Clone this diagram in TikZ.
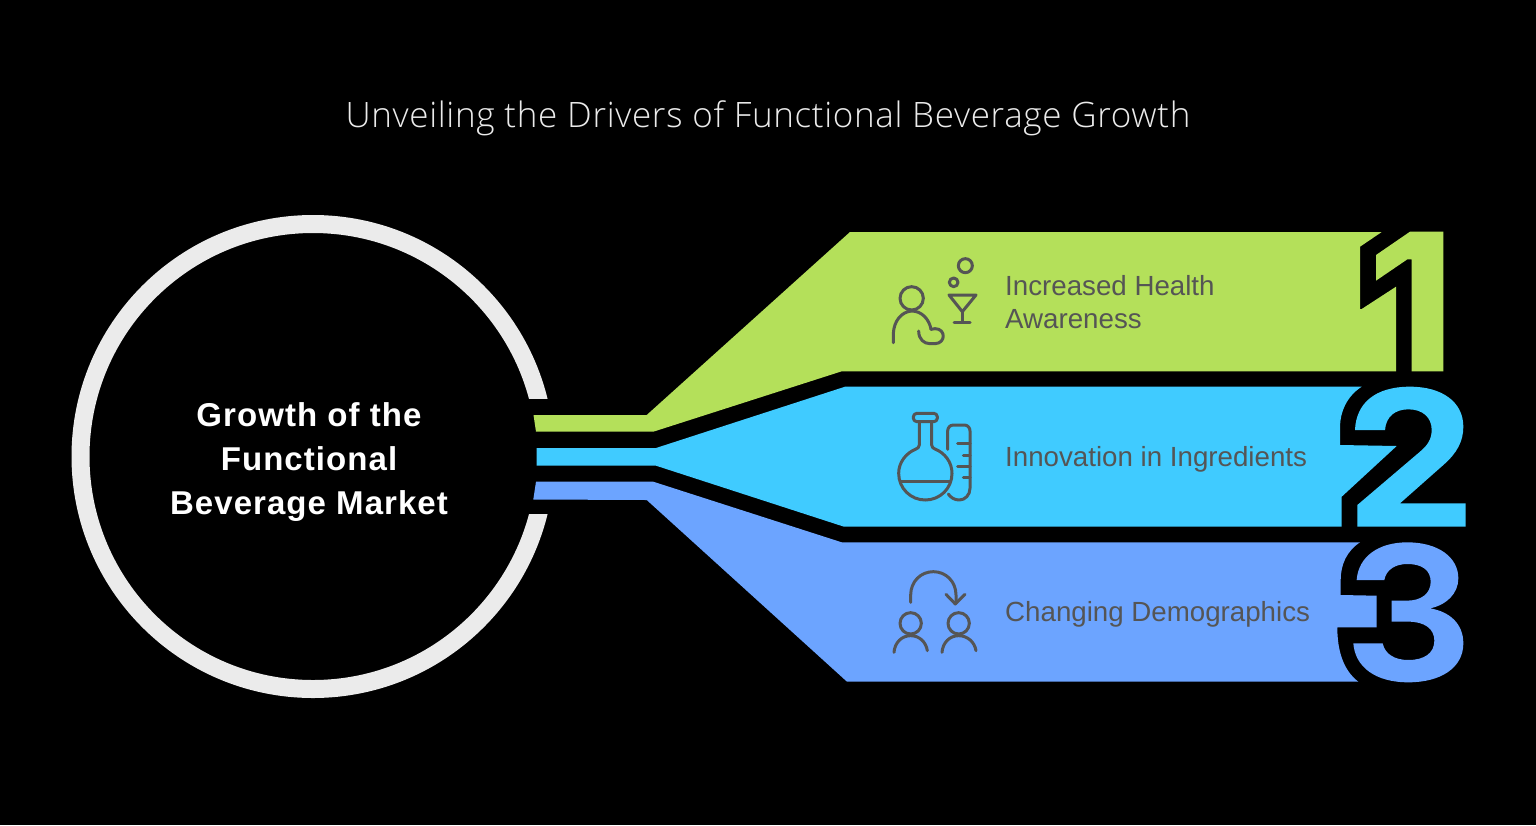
\documentclass[tikz,border=0pt]{standalone}
\usepackage{fontspec}
\setmainfont{Liberation Sans}
\newfontfamily\titlefont[LetterSpace=1.9]{Open Sans Light}
\newfontfamily\hubfont[LetterSpace=3.2]{Liberation Sans}
\definecolor{bandgreen}{HTML}{B4E05A}
\definecolor{bandcyan}{HTML}{40CBFF}
\definecolor{bandblue}{HTML}{6CA4FF}
\definecolor{ringgrey}{HTML}{EBEBEB}
\definecolor{inkgrey}{HTML}{555555}
\tikzset{
  titletext/.style={text=ringgrey,anchor=base,font=\titlefont\fontsize{35}{40}\selectfont,inner sep=0pt},
  hubtext/.style={text=white,align=center,font=\hubfont\fontsize{33}{44}\selectfont\bfseries,inner sep=0pt},
  labeltext/.style={text=inkgrey,align=left,font=\fontsize{27.7}{33}\selectfont,inner sep=0pt},
  iconline/.style={draw=inkgrey,line width=3pt,line cap=round,line join=round},
  zoomed/.style={x=0.33333pt,y=-0.33333pt}
}
\begin{document}
\begin{tikzpicture}[x=1pt,y=-1pt]
\fill[black] (0,0) rectangle (1536,825);
\useasboundingbox (0,0) rectangle (1536,825);
% hub ring
\draw[ringgrey,line width=18pt] (313,456.5) circle[radius=232.5];
\fill[black] (500,399) rectangle (560,514);
% green band and digit
\fill[bandgreen] (533.5,415) -- (646.7,415) -- (850,232) -- (1381.7,232)
  -- (1360,246.7) -- (1360,309) -- (1361.7,309) -- (1396,286.7) -- (1396,371.3)
  -- (841.7,371.3) -- (653.3,431.7) -- (536,431.7) -- cycle;
\begin{scope}[shift={(1300,220)},zoomed]
\fill[bandgreen] (330,35) -- (430,35) -- (430,454) -- (335,454) -- (335,118) -- (322,118) -- (228,182) -- (228,105) -- cycle;
\end{scope}
% cyan band and digit
\fill[bandcyan] (536.7,448) -- (656,448) -- (845,386.7) -- (1361.7,386.7)
  .. controls (1347,396) and (1340,412) .. (1340,427) -- (1340,445) -- (1396.7,446)
  -- (1341.7,496.7) -- (1341.7,526.7) -- (844,526.7) -- (656,465.7) -- (536.7,465.7) -- cycle;
\begin{scope}[shift={(1300,220)},zoomed]
\fill[bandcyan] (172,920) -- (497,920) -- (497,850) -- (300,850) -- (430,735)
  .. controls (470,700) and (490,665) .. (490,620)
  .. controls (490,545) and (425,500) .. (330,500)
  .. controls (225,500) and (168,550) .. (165,630)
  -- (255,630) .. controls (258,590) and (285,568) .. (325,568)
  .. controls (368,568) and (395,592) .. (395,630)
  .. controls (395,660) and (380,678) .. (360,695)
  -- (172,855) -- cycle;
\end{scope}
% blue band and digit
\fill[bandblue] (536,481.7) -- (653.3,481.7) -- (841.7,542.3) -- (1360,542.3)
  .. controls (1347,551) and (1340.7,564) .. (1340.7,580) -- (1340.7,595) -- (1376.7,595.7)
  -- (1376.7,627.3) -- (1337.3,627.3) .. controls (1337.3,650) and (1343,670) .. (1358.3,681.7)
  -- (847,681.7) -- (646.7,500) -- (533.3,499.5) -- cycle;
\begin{scope}[shift={(1300,220)},zoomed]
\fill[bandblue] (170,1080) .. controls (175,1010) and (235,967) .. (322,967)
  .. controls (415,967) and (475,1012) .. (475,1075)
  .. controls (475,1120) and (440,1155) .. (390,1165)
  .. controls (450,1175) and (490,1212) .. (490,1270)
  .. controls (490,1345) and (420,1387) .. (325,1387)
  .. controls (225,1387) and (165,1340) .. (160,1270)
  -- (248,1270) .. controls (255,1303) and (285,1320) .. (325,1320)
  .. controls (372,1320) and (403,1300) .. (403,1262)
  .. controls (403,1225) and (372,1205) .. (325,1205)
  -- (275,1205) -- (275,1142) -- (320,1142)
  .. controls (365,1142) and (392,1120) .. (392,1085)
  .. controls (392,1050) and (365,1032) .. (322,1032)
  .. controls (285,1032) and (258,1050) .. (253,1080) -- cycle;
\end{scope}
% icon 1
\begin{scope}[shift={(880,250)},zoomed]
\draw[iconline] (95,145) circle[radius=35];
\draw[iconline] (40,278) -- (40,250) .. controls (42,212) and (65,185) .. (95,183) .. controls (125,183) and (148,208) .. (153,238);
\draw[iconline] (116,243) .. controls (116,268) and (132,281) .. (150,281) -- (165,281) .. controls (198,280) and (198,236) .. (165,236) -- (153,238);
\draw[iconline] (256,47) circle[radius=21];
\draw[iconline] (221,97) circle[radius=13];
\draw[iconline] (207,135) -- (288,135) -- (247,185) -- cycle;
\draw[iconline] (247,185) -- (247,217);
\draw[iconline] (222,217) -- (270,217);
\end{scope}
% icon 2
\begin{scope}[shift={(880,405)},zoomed]
\draw[iconline,rounded corners=3.5pt] (100,25) rectangle (172,50);
\draw[iconline] (118,50) -- (118,120) .. controls (118,127) and (112,130) .. (108,132)
  .. controls (78,144) and (56,172) .. (56,205)
  .. controls (56,250) and (92,285) .. (136,285)
  .. controls (180,285) and (216,250) .. (216,205)
  .. controls (216,172) and (195,144) .. (165,132)
  .. controls (160,130) and (155,127) .. (155,120) -- (155,50);
\draw[iconline] (62,228) -- (210,228);
\draw[iconline] (203,133) -- (203,78) .. controls (203,68) and (210,60) .. (220,60) -- (253,60)
  .. controls (263,60) and (270,68) .. (270,78) -- (270,250)
  .. controls (270,270) and (255,285) .. (238,285) .. controls (224,285) and (212,278) .. (205,267);
\draw[iconline] (233,116) -- (270,116);
\draw[iconline] (250,150) -- (270,150);
\draw[iconline] (233,183) -- (270,183);
\draw[iconline] (250,216) -- (270,216);
\end{scope}
% icon 3
\begin{scope}[shift={(880,560)},zoomed]
\draw[iconline] (92,127) -- (92,105) .. controls (92,65) and (122,35) .. (160,35) .. controls (198,35) and (228,65) .. (228,105) -- (228,130);
\draw[iconline] (198,103) -- (226,132) -- (255,103);
\draw[iconline] (92,190) circle[radius=32];
\draw[iconline] (236,190) circle[radius=32];
\draw[iconline] (42,277) .. controls (44,248) and (65,227) .. (92,227) .. controls (118,227) and (138,246) .. (142,272);
\draw[iconline] (186,277) .. controls (188,248) and (209,227) .. (236,227) .. controls (262,227) and (284,246) .. (288,272);
\end{scope}
% text
\node[titletext] (title) at (768,127.5) {Unveiling the Drivers of Functional Beverage Growth};
\node[hubtext] (hub) at (309,462) {Growth of the\\Functional\\Beverage Market};
\node[labeltext,anchor=west] (l1) at (1005,302.5) {Increased Health\\Awareness};
\node[labeltext,anchor=base west] (l2) at (1005,466.7) {Innovation in Ingredients};
\node[labeltext,anchor=base west] (l3) at (1005,621.7) {Changing Demographics};
\end{tikzpicture}
\end{document}
